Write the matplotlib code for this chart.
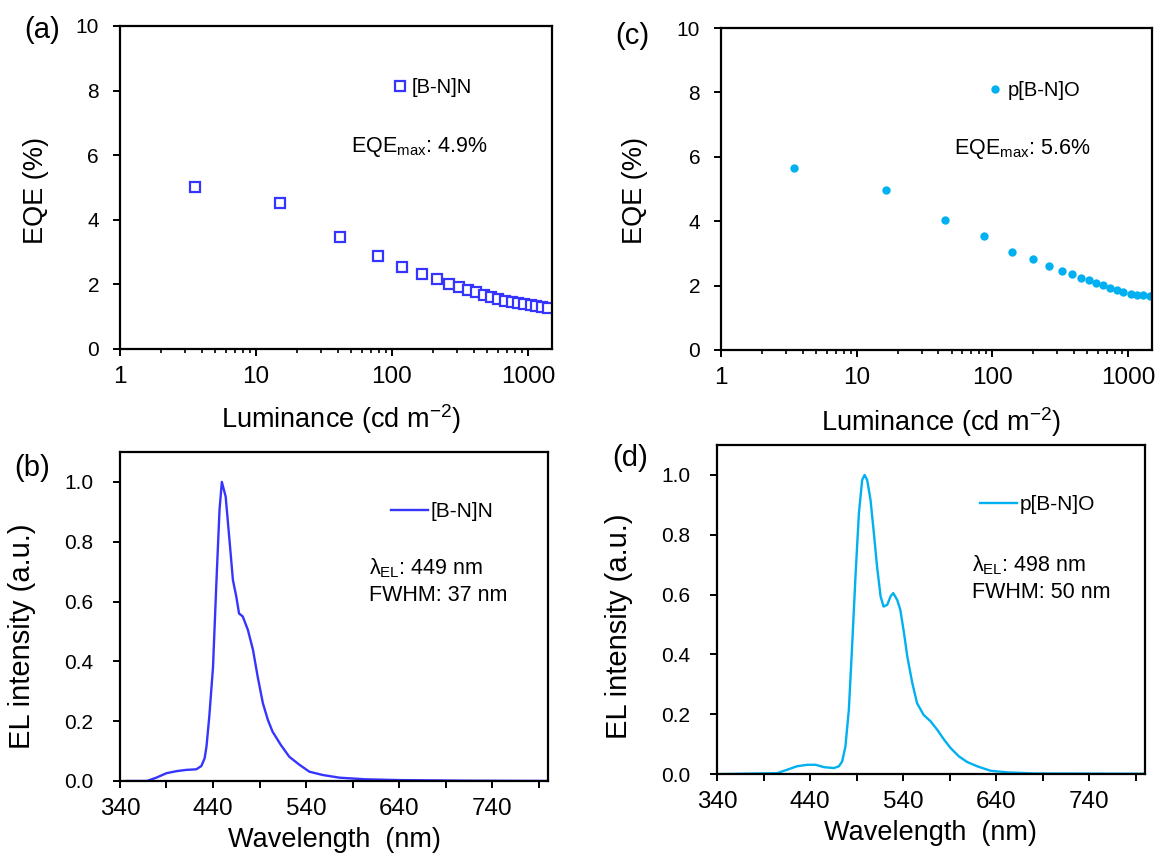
import matplotlib
matplotlib.use("Agg")
import matplotlib.pyplot as plt
from matplotlib.ticker import MultipleLocator, FuncFormatter, LogLocator, NullFormatter

plt.rcParams['font.family'] = ['Liberation Sans', 'DejaVu Sans']
plt.rcParams['mathtext.fontset'] = 'custom'
plt.rcParams['mathtext.rm'] = 'Liberation Sans'

# EQE vs luminance, [B-N]N
lum_a = [3.56, 15.1, 41.5, 78.5, 119, 166, 215, 262, 313, 360, 412, 475,
         534, 602, 674, 759, 844, 939, 1047, 1151, 1268, 1403]
eqe_a = [5.0, 4.53, 3.47, 2.88, 2.55, 2.32, 2.16, 2.02, 1.92, 1.83, 1.75, 1.67,
         1.61, 1.55, 1.50, 1.45, 1.42, 1.38, 1.36, 1.33, 1.31, 1.28]

# EQE vs luminance, p[B-N]O
lum_c = [3.42, 16.3, 44.8, 86.9, 139, 198, 260, 323, 383, 448, 511, 575,
         652, 739, 832, 922, 1043, 1169, 1294, 1449]
eqe_c = [5.66, 4.96, 4.04, 3.54, 3.04, 2.82, 2.62, 2.46, 2.36, 2.25, 2.16, 2.07,
         2.01, 1.94, 1.86, 1.80, 1.75, 1.72, 1.70, 1.67]

# EL spectra
wl_b = [347, 369, 379, 390, 401, 411, 422, 427.5, 431, 433, 436, 440, 443.6, 447,
        449.5, 453.6, 458, 461.4, 465, 468, 472, 477.5, 483, 488, 493.6, 499, 504,
        513, 522, 533, 543.6, 558, 576, 604, 640, 711, 799]
el_b = [0, 0, 0.011, 0.026, 0.033, 0.037, 0.039, 0.05, 0.076, 0.115, 0.215, 0.38,
        0.66, 0.906, 1.0, 0.951, 0.795, 0.672, 0.617, 0.56, 0.55, 0.505, 0.438,
        0.349, 0.26, 0.204, 0.165, 0.12, 0.081, 0.054, 0.031, 0.02, 0.011, 0.0056,
        0.003, 0.001, 0]

wl_d = [345, 404.6, 415, 426, 437, 446, 455, 465.6, 471, 474.5, 478, 481.7, 485,
        489, 492.5, 496, 498.6, 501.4, 505, 508.6, 512, 515.8, 519, 523, 526.5,
        529.4, 533.7, 537, 541, 544.5, 549.9, 555, 562, 569.6, 576.7, 584, 591,
        600, 609, 619.6, 634, 652, 681, 800]
el_d = [0, 0.003, 0.014, 0.026, 0.031, 0.031, 0.023, 0.02, 0.026, 0.042, 0.092,
        0.215, 0.415, 0.671, 0.872, 0.983, 1.0, 0.983, 0.916, 0.805, 0.694, 0.594,
        0.56, 0.566, 0.594, 0.605, 0.582, 0.549, 0.471, 0.393, 0.304, 0.237, 0.198,
        0.176, 0.148, 0.115, 0.087, 0.059, 0.04, 0.026, 0.011, 0.0056, 0.002, 0.001]

wl_ticks = [340, 390, 440, 490, 540, 590, 640, 690, 740, 790]

blue = '#3535ff'
cyan = '#00b0f0'

fig = plt.figure(figsize=(11.6, 8.57), dpi=100)
ax_a = fig.add_axes([0.1034, 0.5928, 0.3724, 0.3769])
ax_c = fig.add_axes([0.6216, 0.5916, 0.3716, 0.3757])
ax_b = fig.add_axes([0.1034, 0.0887, 0.369, 0.3839])
ax_d = fig.add_axes([0.6181, 0.0968, 0.369, 0.3839])


def style(ax, ytick_pad):
    for s in ax.spines.values():
        s.set_linewidth(1.6)
    ax.tick_params(axis='both', which='major', direction='out', length=5,
                   width=1.4, colors='black')
    ax.tick_params(axis='x', labelsize=17.5, pad=7)
    ax.tick_params(axis='y', labelsize=15, pad=ytick_pad)
    ax.tick_params(axis='x', which='minor', direction='out', length=3, width=1.2)


def eqe_panel(ax, lum, eqe, **kw):
    ax.plot(lum, eqe, linestyle='none', **kw)
    ax.set_xscale('log')
    ax.set_xlim(1, 1500)
    ax.set_ylim(0, 10)
    ax.set_xticks([1, 10, 100, 1000])
    ax.set_xticklabels(['1', '10', '100', '1000'])
    ax.xaxis.set_minor_locator(LogLocator(base=10, subs=range(2, 10)))
    ax.xaxis.set_minor_formatter(NullFormatter())
    ax.yaxis.set_major_locator(MultipleLocator(2))
    style(ax, 10)
    ax.set_xlabel('Luminance (cd m$^{\\mathregular{-2}}$)', fontsize=19.5)
    ax.set_ylabel('EQE (%)', fontsize=19.5)


def el_panel(ax, wl, el, color, label):
    ax.plot(wl, el, color=color, lw=1.7, label=label)
    ax.set_xlim(340, 800)
    ax.set_ylim(0, 1.1)
    ax.set_xticks(wl_ticks)
    ax.set_xticklabels([str(t) if (t - 340) % 100 == 0 else '' for t in wl_ticks])
    ax.set_yticks([0, 0.2, 0.4, 0.6, 0.8, 1.0])
    ax.yaxis.set_major_formatter(FuncFormatter(lambda v, p: '%.1f' % v))
    style(ax, 14)
    ax.set_xlabel('Wavelength  (nm)', fontsize=19.5)
    ax.set_ylabel('EL intensity (a.u.)', fontsize=21)


# (a)
eqe_panel(ax_a, lum_a, eqe_a, marker='s', markersize=6.5, markerfacecolor='white',
          markeredgecolor=blue, markeredgewidth=1.6, label='[B-N]N')
ax_a.legend(loc='center left', bbox_to_anchor=(0.634, 0.808), frameon=False,
            fontsize=14.5, numpoints=1, handlelength=0.6, handletextpad=0.3,
            borderpad=0, borderaxespad=0)
ax_a.text(0.534, 0.611, 'EQE$_{\\mathregular{max}}$: 4.9%', transform=ax_a.transAxes,
          fontsize=15.5, va='baseline', ha='left')
ax_a.xaxis.set_label_coords(0.511, -0.165)
ax_a.yaxis.set_label_coords(-0.165, 0.49)

# (c)
eqe_panel(ax_c, lum_c, eqe_c, marker='o', markersize=6, color=cyan,
          markeredgewidth=0, label='p[B-N]O')
ax_c.legend(loc='center left', bbox_to_anchor=(0.622, 0.807), frameon=False,
            fontsize=14.5, numpoints=1, handlelength=0.6, handletextpad=0.3,
            borderpad=0, borderaxespad=0)
ax_c.text(0.541, 0.609, 'EQE$_{\\mathregular{max}}$: 5.6%', transform=ax_c.transAxes,
          fontsize=15.5, va='baseline', ha='left')
ax_c.xaxis.set_label_coords(0.51, -0.17)
ax_c.yaxis.set_label_coords(-0.169, 0.495)

# (b)
el_panel(ax_b, wl_b, el_b, blue, '[B-N]N')
ax_b.legend(loc='center left', bbox_to_anchor=(0.633, 0.819), frameon=False,
            fontsize=15, handlelength=1.8, handletextpad=0.1,
            borderpad=0, borderaxespad=0)
ax_b.text(0.582, 0.629, 'λ$_{\\mathregular{EL}}$: 449 nm', transform=ax_b.transAxes,
          fontsize=15.5, va='baseline', ha='left')
ax_b.text(0.582, 0.547, 'FWHM: 37 nm', transform=ax_b.transAxes,
          fontsize=15.5, va='baseline', ha='left')
ax_b.xaxis.set_label_coords(0.5, -0.14)
ax_b.yaxis.set_label_coords(-0.195, 0.44)

# (d)
el_panel(ax_d, wl_d, el_d, cyan, 'p[B-N]O')
ax_d.legend(loc='center left', bbox_to_anchor=(0.614, 0.818), frameon=False,
            fontsize=15, handlelength=1.8, handletextpad=0.1,
            borderpad=0, borderaxespad=0)
ax_d.text(0.595, 0.615, 'λ$_{\\mathregular{EL}}$: 498 nm', transform=ax_d.transAxes,
          fontsize=15.5, va='baseline', ha='left')
ax_d.text(0.595, 0.536, 'FWHM: 50 nm', transform=ax_d.transAxes,
          fontsize=15.5, va='baseline', ha='left')
ax_d.xaxis.set_label_coords(0.498, -0.14)
ax_d.yaxis.set_label_coords(-0.196, 0.448)

# panel letters
for x, y, s in [(0.0362, 0.965, '(a)'), (0.545, 0.958, '(c)'),
                (0.0276, 0.454, '(b)'), (0.543, 0.4656, '(d)')]:
    fig.text(x, y, s, fontsize=21, ha='center', va='center')

fig.savefig('out.png', dpi=100)
